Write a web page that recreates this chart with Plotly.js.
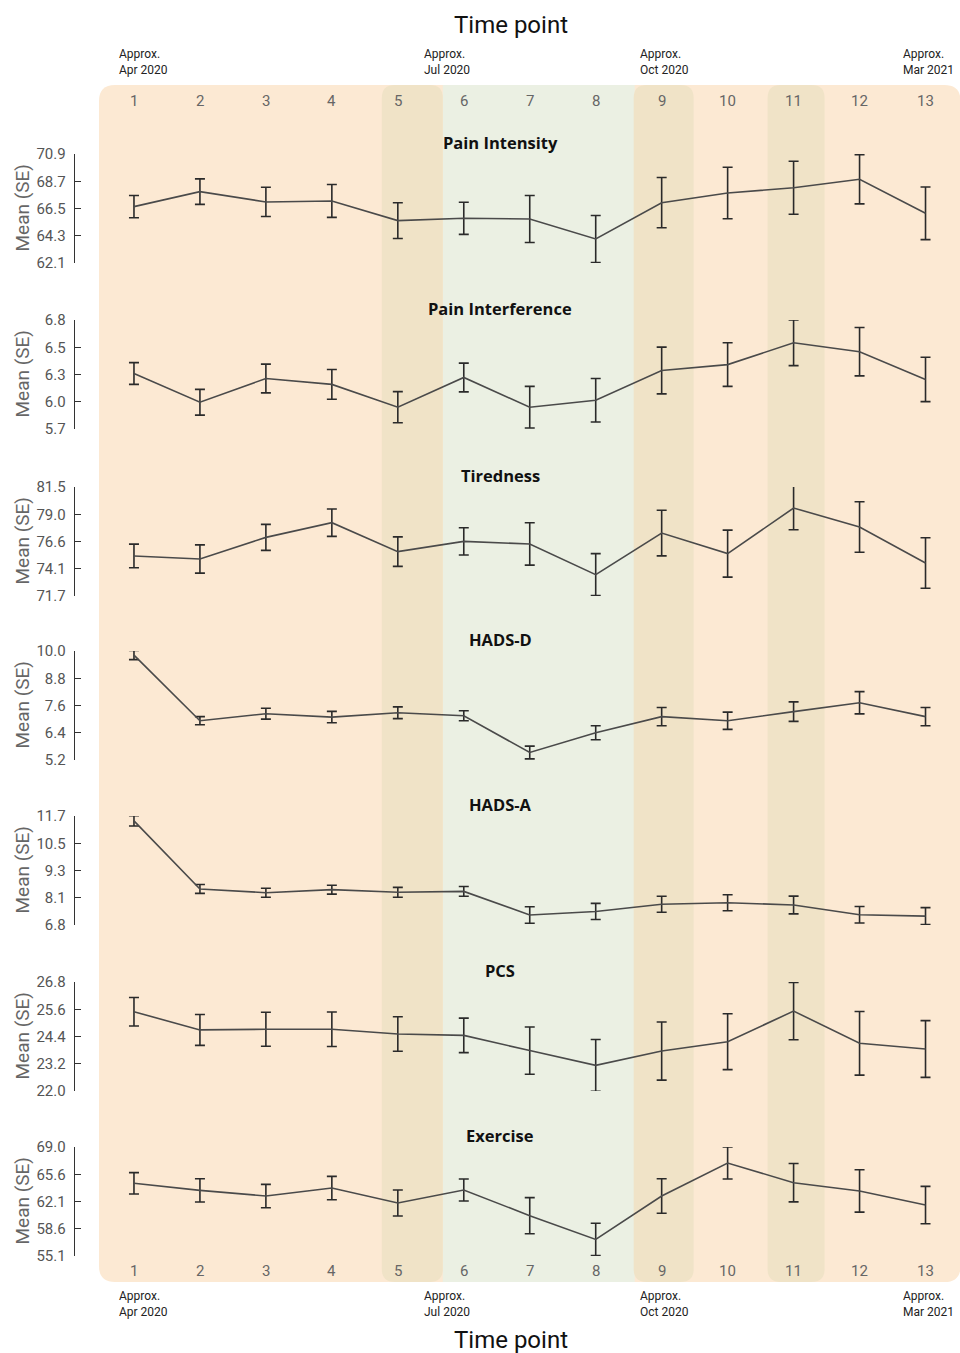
<!DOCTYPE html>
<html>
<head>
<meta charset="utf-8">
<script src="https://cdn.plot.ly/plotly-3.0.1.min.js"></script>
<style>html,body{margin:0;padding:0;background:#fff;}#chart{width:960px;height:1353px;}</style>
</head>
<body>
<div id="chart"></div>
<script>
// ---------------- data ----------------
const timepoints = [1,2,3,4,5,6,7,8,9,10,11,12,13];
const panelNames = ["Pain Intensity","Pain Interference","Tiredness","HADS-D","HADS-A","PCS","Exercise"];

const painIntensityMean = [66.65,67.86,67.03,67.11,65.52,65.71,65.65,64.04,66.97,67.75,68.18,68.86,66.11];
const painIntensitySE   = [0.90,1.03,1.18,1.33,1.44,1.30,1.90,1.90,2.03,2.08,2.14,1.99,2.12];
const painIntensityTicks = ["62.1","64.3","66.5","68.7","70.9"];
const painIntensityRange = [62.1,70.9];

const painInterfMean = [6.26,5.97,6.21,6.15,5.92,6.22,5.92,5.99,6.29,6.35,6.57,6.48,6.20];
const painInterfSE   = [0.11,0.13,0.145,0.15,0.157,0.145,0.21,0.22,0.236,0.22,0.23,0.244,0.224];
const painInterfTicks = ["5.7","6.0","6.3","6.5","6.8"];
const painInterfRange = [5.7,6.8];

const tirednessMean = [75.30,75.03,76.97,78.29,75.69,76.61,76.38,73.62,77.36,75.51,79.61,77.90,74.67];
const tirednessSE   = [1.06,1.27,1.17,1.23,1.33,1.23,1.90,1.89,2.05,2.11,1.96,2.27,2.27];
const tirednessTicks = ["71.7","74.1","76.6","79.0","81.5"];
const tirednessRange = [71.7,81.5];

const hadsDMean = [9.82,6.93,7.24,7.09,7.28,7.15,5.53,6.40,7.11,6.93,7.33,7.72,7.11];
const hadsDSE   = [0.20,0.18,0.24,0.25,0.26,0.22,0.28,0.31,0.40,0.38,0.43,0.49,0.40];
const hadsDTicks = ["5.2","6.4","7.6","8.8","10.0"];
const hadsDRange = [5.2,10.0];

const hadsAMean = [11.48,8.42,8.25,8.39,8.27,8.31,7.25,7.41,7.73,7.80,7.70,7.26,7.20];
const hadsASE   = [0.23,0.20,0.20,0.20,0.22,0.22,0.37,0.36,0.36,0.36,0.40,0.37,0.38];
const hadsATicks = ["6.8","8.1","9.3","10.5","11.7"];
const hadsARange = [6.8,11.7];

const pcsMean = [25.49,24.69,24.72,24.72,24.51,24.45,23.78,23.13,23.76,24.17,25.52,24.10,23.85];
const pcsSE   = [0.63,0.68,0.75,0.76,0.76,0.76,1.04,1.14,1.28,1.23,1.26,1.40,1.25];
const pcsTicks = ["22.0","23.2","24.4","25.6","26.8"];
const pcsRange = [22.0,26.8];

const exerciseMean = [64.37,63.47,62.75,63.77,61.86,63.52,60.24,57.22,62.75,66.96,64.45,63.39,61.60];
const exerciseSE   = [1.36,1.49,1.49,1.49,1.66,1.40,2.30,2.05,2.20,2.04,2.45,2.70,2.38];
const exerciseTicks = ["55.1","58.6","62.1","65.6","69.0"];
const exerciseRange = [55.1,69.0];

const dateLabels = ["Approx.<br>Apr 2020","Approx.<br>Jul 2020","Approx.<br>Oct 2020","Approx.<br>Mar 2021"];
const dateTimepoints = [1,5,9,13];
const xAxisTitle = "Time point";
const yAxisTitle = "Mean (SE)";

// -------------- layout helpers --------------
const W = 960, H = 1353, ML = 75;
const py = p => 1 - p / H;            // pixel y -> paper y
const pxp = p => (p - ML) / (W - ML); // pixel x -> paper x

const means = [painIntensityMean,painInterfMean,tirednessMean,hadsDMean,hadsAMean,pcsMean,exerciseMean];
const ses = [painIntensitySE,painInterfSE,tirednessSE,hadsDSE,hadsASE,pcsSE,exerciseSE];
const tickTexts = [painIntensityTicks,painInterfTicks,tirednessTicks,hadsDTicks,hadsATicks,pcsTicks,exerciseTicks];
const ranges = [painIntensityRange,painInterfRange,tirednessRange,hadsDRange,hadsARange,pcsRange,exerciseRange];

const panelTops = [154,320,487,651,816,982,1147];
const panelH = 109;

const traces = [];
const layout = {
  width: W, height: H,
  margin: {l: ML, r: 0, t: 0, b: 0},
  paper_bgcolor: "#ffffff",
  plot_bgcolor: "rgba(0,0,0,0)",
  showlegend: false,
  font: {family: "Roboto, sans-serif", color: "#555"},
  xaxis: {
    range: [1 - 59/66, 13 + 34.5/66],
    showgrid: false, zeroline: false, showline: false, showticklabels: false, ticks: "",
    fixedrange: true
  },
  shapes: [],
  annotations: []
};

panelNames.forEach((name, i) => {
  const yk = i === 0 ? "y" : "y" + (i + 1);
  const yaxKey = i === 0 ? "yaxis" : "yaxis" + (i + 1);
  const r = ranges[i];
  const tv = tickTexts[i].map((t, k) => r[0] + (r[1] - r[0]) * k / (tickTexts[i].length - 1));
  layout[yaxKey] = {
    domain: [py(panelTops[i] + panelH), py(panelTops[i])],
    range: r,
    anchor: "x",
    showgrid: false, zeroline: false,
    showline: true, linecolor: "#333", linewidth: 1.3,
    ticks: "inside", ticklen: 6, tickcolor: "#333", tickwidth: 1.3,
    tickvals: tv, ticktext: tickTexts[i],
    tickfont: {family: "Roboto, sans-serif", size: 15, color: "#555"},
    ticklabelstandoff: 5,
    fixedrange: true
  };
  traces.push({
    type: "scatter", mode: "lines",
    x: timepoints, y: means[i],
    xaxis: "x", yaxis: yk,
    line: {color: "#4a4a4a", width: 1.6},
    error_y: {type: "data", array: ses[i], visible: true, color: "#2a2a2a", thickness: 1.6, width: 5},
    hoverinfo: "skip"
  });
  // panel title
  layout.annotations.push({
    text: "<b>" + name + "</b>", xref: "paper", yref: "paper",
    x: pxp(500), y: py(panelTops[i] - 12), xanchor: "center", yanchor: "middle",
    showarrow: false, font: {family: "Open Sans, sans-serif", size: 16.5, color: "#111"}
  });
  // y-axis title
  layout.annotations.push({
    text: yAxisTitle, xref: "paper", yref: "paper", textangle: -90,
    x: pxp(22), y: py(panelTops[i] + panelH / 2), xanchor: "center", yanchor: "middle",
    showarrow: false, font: {family: "Roboto, sans-serif", size: 19, color: "#666"}
  });
});

// time point numbers, top and bottom
timepoints.forEach(t => {
  [101, 1271].forEach(p => {
    layout.annotations.push({
      text: String(t), xref: "x", yref: "paper", x: t, y: py(p),
      xanchor: "center", yanchor: "middle", showarrow: false,
      font: {family: "Roboto, sans-serif", size: 15, color: "#666"}
    });
  });
});

// date labels
const dateShift = [-17, 24, -24, -25];
dateLabels.forEach((lab, k) => {
  [62, 1304].forEach(p => {
    layout.annotations.push({
      text: lab, xref: "x", yref: "paper", x: dateTimepoints[k], xshift: dateShift[k], y: py(p),
      xanchor: "left", yanchor: "middle", align: "left", showarrow: false,
      font: {family: "Roboto, sans-serif", size: 12, color: "#222"}
    });
  });
});

// axis titles top & bottom
[25, 1340].forEach(p => {
  layout.annotations.push({
    text: xAxisTitle, xref: "paper", yref: "paper", x: pxp(511), y: py(p),
    xanchor: "center", yanchor: "middle", showarrow: false,
    font: {family: "Roboto, sans-serif", size: 24, color: "#111"}
  });
});

// background period shading (rounded rectangles in x-data / paper-y coordinates)
const pxPerUnit = 66;
function rrect(x0, x1, y0p, y1p, rpx) {
  const rx = rpx / pxPerUnit, ry = rpx / H;
  const y0 = py(y1p), y1 = py(y0p); // y0 bottom, y1 top (paper)
  let d = `M${x0 + rx},${y1}`;
  d += ` L${x1 - rx},${y1} Q${x1},${y1} ${x1},${y1 - ry}`;
  d += ` L${x1},${y0 + ry} Q${x1},${y0} ${x1 - rx},${y0}`;
  d += ` L${x0 + rx},${y0} Q${x0},${y0} ${x0},${y0 + ry}`;
  d += ` L${x0},${y1 - ry} Q${x0},${y1} ${x0 + rx},${y1} Z`;
  return d;
}
const toX = p => 1 + (p - 134) / pxPerUnit;
const shadeTop = 85, shadeBot = 1282;
layout.shapes.push({type: "path", xref: "x", yref: "paper", layer: "below",
  path: rrect(toX(99), toX(961), shadeTop, shadeBot, 16), fillcolor: "#FCE9D3", line: {width: 0}});
layout.shapes.push({type: "rect", xref: "x", yref: "paper", layer: "below",
  x0: toX(443), x1: toX(635), y0: py(shadeBot), y1: py(shadeTop), fillcolor: "#EBF0E3", line: {width: 0}});
[[382, 443], [634, 694], [768, 825]].forEach(b => {
  layout.shapes.push({type: "path", xref: "x", yref: "paper", layer: "below",
    path: rrect(toX(b[0]), toX(b[1]), shadeTop, shadeBot, 13), fillcolor: "#F0E3C7", line: {width: 0}});
});

Plotly.newPlot("chart", traces, layout, {staticPlot: true, displayModeBar: false});
</script>
</body>
</html>
